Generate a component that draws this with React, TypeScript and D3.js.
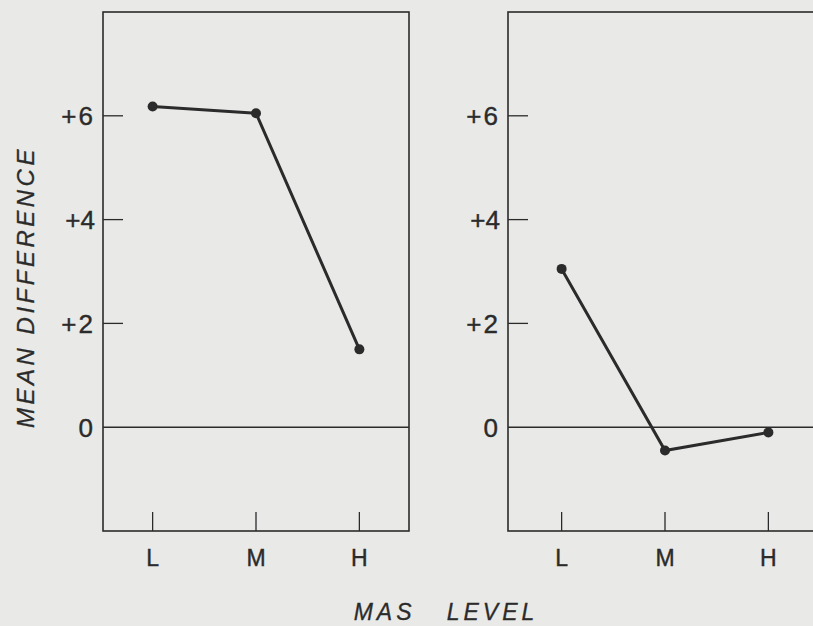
import React from "react";
import * as d3 from "d3";

// MAS level categories and mean differences
const levels = ["L", "M", "H"];
const leftValues = [6.18, 6.05, 1.5];
const rightValues = [3.05, -0.45, -0.1];
const yTicks = [6, 4, 2, 0];
const yTickLabels = ["+6", "+4", "+2", "0"];

const W = 813;
const H = 626;
const panelTop = 12;
const panelBottom = 531;
const panelWidth = 306;
const ink = "#2b2b2b";
const font = "'Liberation Sans', Arial, sans-serif";

const y = d3.scaleLinear().domain([-2, 8]).range([panelBottom, panelTop]);

const Panel = ({ left, values, shift }: { left: number; values: number[]; shift: number }) => {
  const x = d3
    .scalePoint<string>()
    .domain(levels)
    .range([left + shift, left + panelWidth + shift])
    .padding(0.48);
  const pts = values.map((v, i) => [x(levels[i]) as number, y(v)] as [number, number]);
  const line = d3.line();
  return (
    <g>
      <rect
        x={left}
        y={panelTop}
        width={panelWidth}
        height={panelBottom - panelTop}
        fill="none"
        stroke={ink}
        strokeWidth={1.6}
      />
      <line x1={left} x2={left + panelWidth} y1={y(0)} y2={y(0)} stroke={ink} strokeWidth={1.5} />
      {yTicks.map((t, i) => (
        <g key={t}>
          {t !== 0 && (
            <line x1={left} x2={left + 20} y1={y(t)} y2={y(t)} stroke={ink} strokeWidth={1.3} />
          )}
          <text
            x={left - 8}
            y={y(t)}
            dy="0.36em"
            textAnchor="end"
            fontFamily={font}
            fontSize={26}
            letterSpacing={t === 4 ? 0 : 2}
            fill={ink}
            stroke={ink}
            strokeWidth={0.4}
          >
            {yTickLabels[i]}
          </text>
        </g>
      ))}
      {levels.map((l) => (
        <g key={l}>
          <line
            x1={x(l)}
            x2={x(l)}
            y1={panelBottom}
            y2={panelBottom - 19}
            stroke={ink}
            strokeWidth={1.3}
          />
          <text
            x={x(l)}
            y={panelBottom + 35}
            textAnchor="middle"
            fontFamily={font}
            fontSize={23}
            fill={ink}
            stroke={ink}
            strokeWidth={0.4}
          >
            {l}
          </text>
        </g>
      ))}
      <path d={line(pts) || ""} fill="none" stroke={ink} strokeWidth={3} />
      {pts.map((p, i) => (
        <circle key={i} cx={p[0]} cy={p[1]} r={5} fill={ink} />
      ))}
    </g>
  );
};

export default function App() {
  return (
    <svg
      width={W}
      height={H}
      style={{ position: "absolute", left: 0, top: 0, background: "#e9e9e7" }}
    >
      <Panel left={103} values={leftValues} shift={0} />
      <Panel left={508} values={rightValues} shift={4} />
      <text
        transform="translate(34,287) rotate(-90)"
        textAnchor="middle"
        fontFamily={font}
        fontStyle="italic"
        fontSize={24}
        letterSpacing={3.5}
        fill={ink}
        stroke={ink}
        strokeWidth={0.3}
      >
        MEAN DIFFERENCE
      </text>
      <text
        x={446}
        y={620}
        textAnchor="middle"
        fontFamily={font}
        fontStyle="italic"
        fontSize={23}
        letterSpacing={4}
        fill={ink}
        stroke={ink}
        strokeWidth={0.3}
        style={{ whiteSpace: "pre" }}
      >
        {"MAS   LEVEL"}
      </text>
    </svg>
  );
}
